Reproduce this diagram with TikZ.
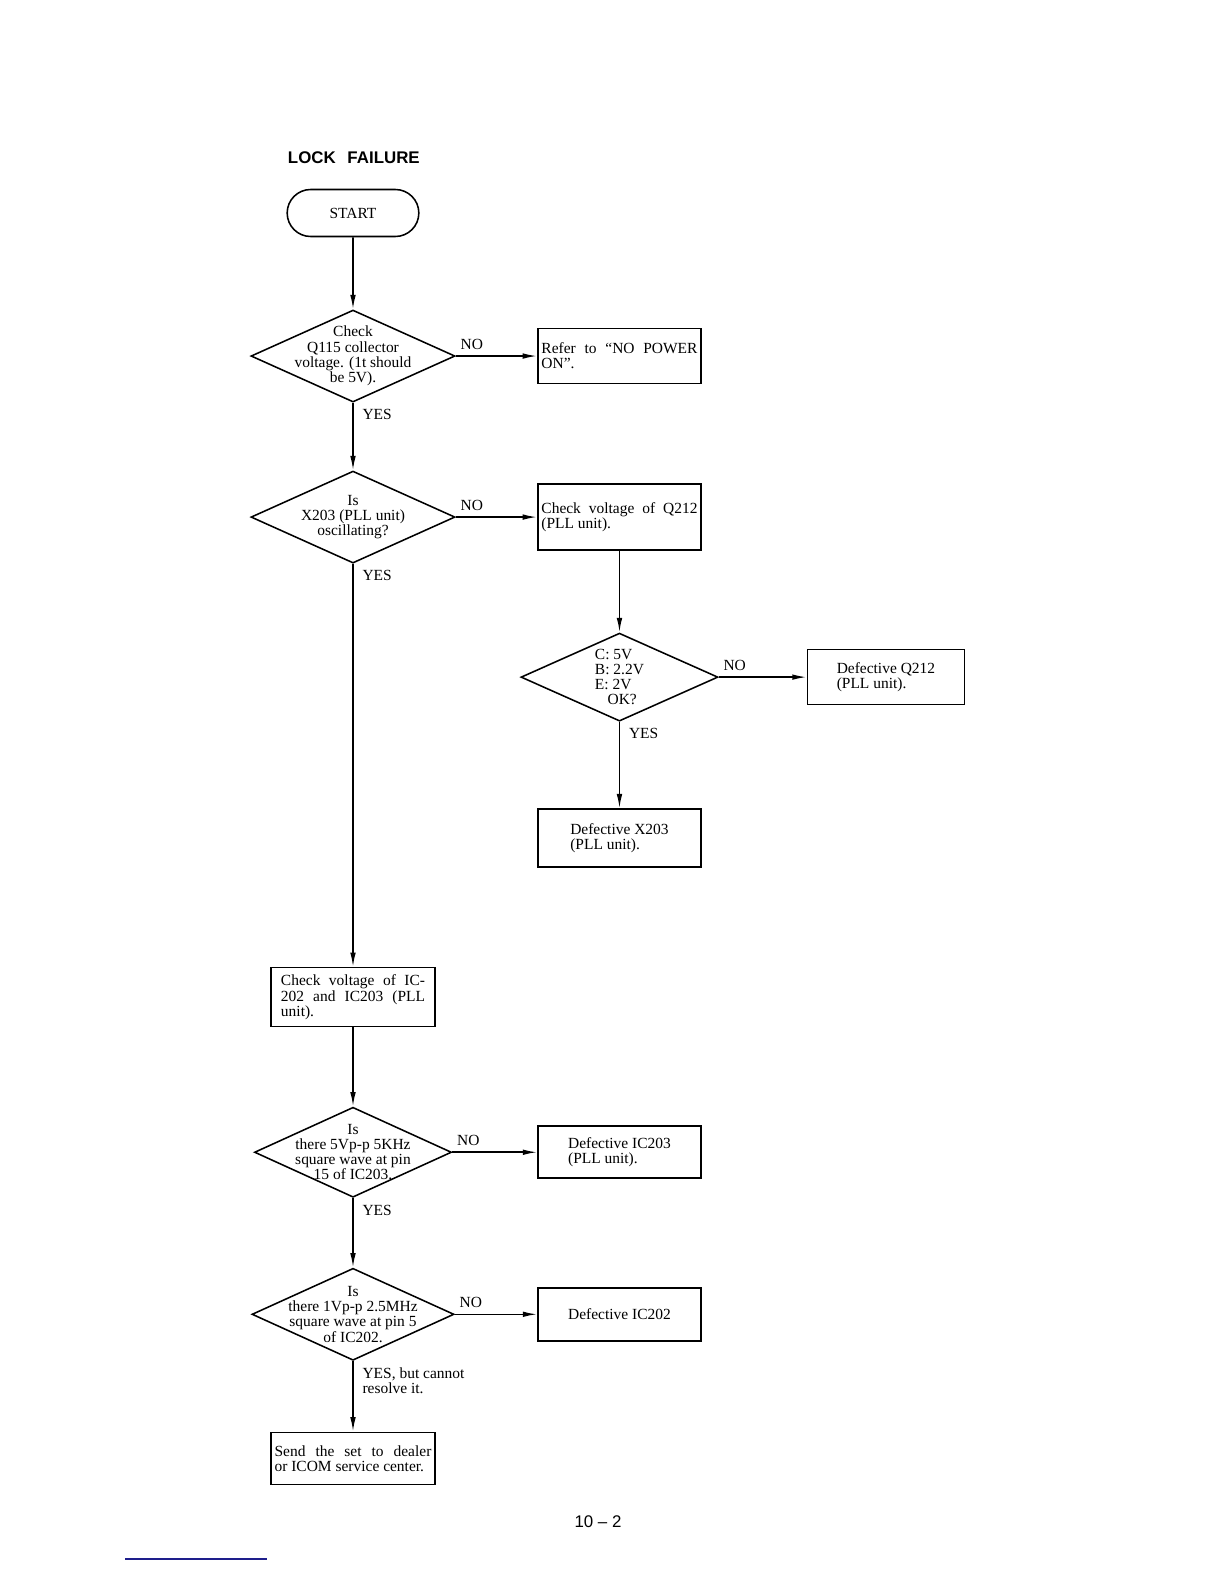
\documentclass[tikz,border=0pt]{standalone}
\usepackage{fontspec}
\setmainfont{Liberation Serif}
\setsansfont{Liberation Sans}
\usetikzlibrary{positioning}
\usetikzlibrary{shapes.geometric, shapes.misc, arrows.meta}
\definecolor{linkblue}{RGB}{30,30,140}
\tikzset{
    every node/.style={font=\fontsize{11}{10.8}\selectfont},
    terminal/.style={draw, rounded rectangle, line width=1.1pt,
        minimum width=3.525cm, minimum height=1.175cm},
    decision/.style={draw, diamond, inner sep=0pt, line width=1.1pt,
        minimum width=5.1cm, minimum height=2.3cm},
    box/.style={draw, rectangle, line width=1.1pt,
        minimum width=4.075cm, minimum height=1.375cm},
    jbox/.style={box, text width=3.9cm, align=justify, inner xsep=0.09cm},
    nolabel/.style={pos=0, inner sep=0pt, anchor=south west, xshift=0.1cm, yshift=0.15cm},
    yeslabel/.style={pos=0, inner sep=0pt, anchor=north west, xshift=0.22cm, yshift=-0.15cm, align=left},
    flow/.style={line width=1.1pt, -{Latex[length=3.6mm,width=1.4mm]}}
}

\begin{document}
\begin{tikzpicture}[x=0.025cm, y=-0.025cm, on grid]
      \useasboundingbox (0,0) rectangle (1224,1584);

      \node[anchor=west, font=\sffamily\bfseries\fontsize{12}{14}\selectfont] (title) at (283,158) {LOCK\hspace{5pt} FAILURE};
      \node[terminal] (start) at (353,213) {START};

      % main column
      \node[decision, label={[align=center]center:{Check\\Q115 collector\\voltage. (1t should\\be 5V).}}]
        (q115) [below=3.575cm of start] {};
      \node[jbox] (nopower) [right=6.66cm of q115] {Refer to ``NO POWER\linebreak ON''.};
      \node[decision, label={[align=center]center:{Is\\X203 (PLL unit)\\oscillating?}}]
        (x203osc) [below=4.025cm of q115] {};
      \node[jbox, minimum height=1.65cm] (chkq212) [right=6.66cm of x203osc] {Check voltage of Q212\linebreak (PLL unit).};

      % Q212 branch
      \node[decision, minimum width=4.925cm, minimum height=2.2cm,
        label={[align=left]center:{C: 5V\\B: 2.2V\\E: 2V\\\hspace{9pt}OK?}}]
        (q212volt) [below=4cm of chkq212] {};
      \node[box, minimum width=3.925cm, align=left] (defq212) [right=6.66cm of q212volt] {Defective Q212\\(PLL unit).};
      \node[box, minimum height=1.45cm, align=left] (defx203) [below=4.025cm of q212volt] {Defective X203\\(PLL unit).};

      \node[jbox, text width=3.6cm, inner xsep=0.25cm, minimum height=1.475cm]
        (chkic) [below=12cm of x203osc] {Check voltage of IC-\linebreak 202 and IC203 (PLL\linebreak unit).};
      \node[decision, minimum width=4.925cm, minimum height=2.25cm,
        label={[align=center]center:{Is\\there 5Vp-p 5KHz\\square wave at pin\\15 of IC203.}}]
        (ic203wave) [below=3.875cm of chkic] {};
      \node[box, minimum height=1.3cm, align=left] (defic203) [right=6.66cm of ic203wave] {Defective IC203\\(PLL unit).};
      \node[decision, minimum width=5.05cm,
        label={[align=center]center:{Is\\there 1Vp-p 2.5MHz\\square wave at pin 5\\of IC202.}}]
        (ic202wave) [below=4.05cm of ic203wave] {};
      \node[box, minimum height=1.325cm] (defic202) [right=6.66cm of ic202wave] {Defective IC202};
      \node[jbox, text width=3.92cm, minimum height=1.3cm]
        (send) [below=3.6cm of ic202wave] {Send the set to dealer\linebreak or ICOM service center.};

      \node[font=\sffamily\fontsize{12}{14}\selectfont] (page) at (598,1522) {10 -- 2};
      \draw[linkblue, line width=0.8pt] (125,1559) -- (267,1559);

      \path[flow]
        (start) edge (q115)
        (q115) edge node[nolabel] {NO} (nopower)
          edge node[yeslabel] {YES} (x203osc)
        (x203osc) edge node[nolabel] {NO} (chkq212)
          edge node[yeslabel] {YES} (chkic)
        (chkq212) edge (q212volt)
        (q212volt) edge node[nolabel] {NO} (defq212)
          edge node[yeslabel] {YES} (defx203)
        (chkic) edge (ic203wave)
        (ic203wave) edge node[nolabel] {NO} (defic203)
          edge node[yeslabel] {YES} (ic202wave)
        (ic202wave) edge node[nolabel] {NO} (defic202)
          edge node[yeslabel] {YES, but cannot\\resolve it.} (send);
     \end{tikzpicture}
\end{document}
